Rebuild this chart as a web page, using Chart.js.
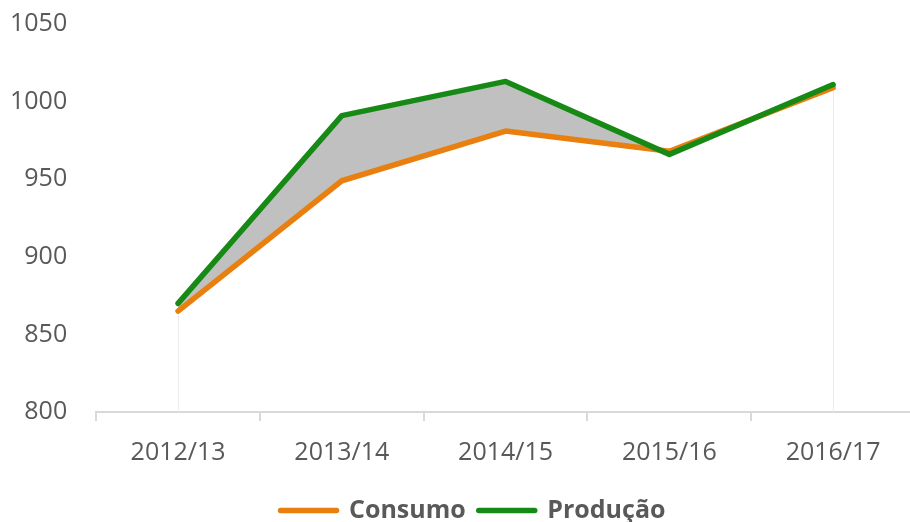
<!DOCTYPE html>
<html><head><meta charset="utf-8">
<script src="https://cdn.jsdelivr.net/npm/chart.js@4"></script>
<style>html,body{margin:0;padding:0;overflow:hidden;background:#fff;width:910px;height:522px;position:relative}#w{position:absolute;left:-27px;top:-20px;width:947px;height:553px}</style>
</head><body><div id="w"><canvas id="c"></canvas></div>
<script>
const categories = ["2012/13","2013/14","2014/15","2015/16","2016/17"];
const consumo = [865, 949, 981, 968, 1009];
const producao = [870, 991, 1013, 966, 1011];
const yTicks = [800, 850, 900, 950, 1000, 1050];

const edgeLines = {
  id: 'edgeLines',
  beforeDatasetsDraw(chart) {
    const {ctx, scales:{x, y}} = chart;
    ctx.save();
    ctx.strokeStyle = '#ececec';
    ctx.lineWidth = 1;
    [0, categories.length - 1].forEach(i => {
      const px = Math.round(x.getPixelForValue(i)) + 0.5;
      ctx.beginPath();
      ctx.moveTo(px, y.getPixelForValue(Math.min(consumo[i], producao[i])));
      ctx.lineTo(px, y.getPixelForValue(yTicks[0]));
      ctx.stroke();
    });
    ctx.restore();
  }
};

const legendShift = {
  id: 'legendShift',
  afterLayout(chart) {
    if (chart.legend) { chart.legend.left += 25; chart.legend.right += 25; }
  }
};

new Chart(document.getElementById('c'), {
  type: 'line',
  data: {
    labels: categories,
    datasets: [
      { label: 'Consumo', data: consumo, borderColor: '#E97F0E', backgroundColor: '#E97F0E',
        borderWidth: 5.5, pointRadius: 0, tension: 0, fill: false, order: 2, borderCapStyle: 'round', borderJoinStyle: 'round' },
      { label: 'Produção', data: producao, borderColor: '#178A15', backgroundColor: '#178A15',
        borderWidth: 5.5, pointRadius: 0, tension: 0, order: 1, borderCapStyle: 'round', borderJoinStyle: 'round',
        fill: { target: 0, above: '#C0C0C0', below: '#C0C0C0' } }
    ]
  },
  plugins: [edgeLines, legendShift],
  options: {
    responsive: true, maintainAspectRatio: false, animation: false,
    layout: { padding: { left: 8, right: 5, top: 7, bottom: 0 } },
    plugins: {
      filler: { drawTime: 'beforeDatasetsDraw' },
      tooltip: { enabled: false },
      legend: {
        position: 'bottom',
        labels: {
          font: { family: 'Open Sans', size: 25, weight: 'bold' },
          color: '#595959',
          usePointStyle: true,
          pointStyleWidth: 56,
          boxHeight: 5,
          padding: 13,
          sort: (a, b) => a.datasetIndex - b.datasetIndex,
          generateLabels: (chart) => chart.data.datasets.map((d, i) => ({
            text: d.label, fillStyle: d.borderColor, strokeStyle: d.borderColor,
            lineWidth: 5.5, lineCap: 'round', pointStyle: 'line', datasetIndex: i, hidden: false,
            fontColor: '#595959'
          }))
        }
      }
    },
    scales: {
      x: {
        offset: true,
        grid: { offset: true, drawOnChartArea: false, drawTicks: true, tickLength: 9, color: '#d9d9d9', lineWidth: 2 },
        border: { color: '#d9d9d9', width: 2 },
        ticks: { font: { family: 'Open Sans', size: 25 }, color: '#595959', padding: 17, maxRotation: 0 }
      },
      y: {
        min: 800, max: 1050,
        afterBuildTicks: (axis) => { axis.ticks = yTicks.map(v => ({ value: v })); },
        grid: { display: false, drawTicks: false, tickLength: 0 },
        border: { display: false },
        ticks: { font: { family: 'Open Sans', size: 25 }, color: '#595959', padding: 29, callback: (v) => String(v) }
      }
    }
  }
});
</script></body></html>
